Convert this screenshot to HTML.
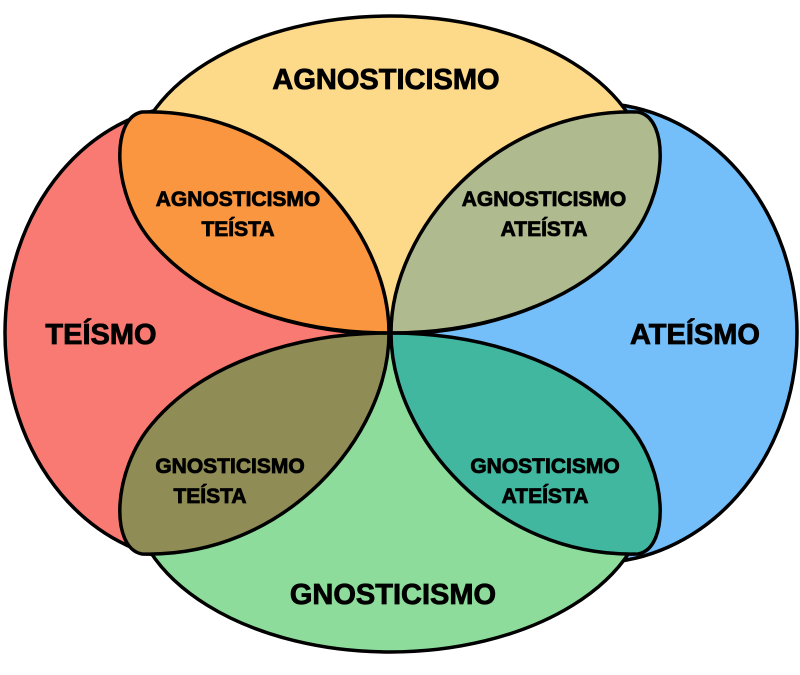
<!DOCTYPE html>
<html><head><meta charset="utf-8"><style>
html,body{margin:0;padding:0;background:#fff;}
svg{display:block;}
text{font-family:"Liberation Sans",sans-serif;font-weight:bold;fill:#000;stroke:#000;stroke-width:0.8;text-anchor:middle;}
</style></head><body>
<svg width="800" height="675" viewBox="0 0 800 675">
<defs>
<path id="petal" d="M389,333 C389,230 285,108 142,112 C110,118 112,195 152,242 C205,305 300,333 389,333 Z"/>
</defs>
<g stroke="#000" stroke-width="3.5">
<ellipse cx="197" cy="333" rx="192" ry="228" fill="#f87a72"/>
<ellipse cx="594" cy="333" rx="203" ry="230" fill="#74bff9"/>
<ellipse cx="390" cy="175" rx="258" ry="159" fill="#fdd98a"/>
<ellipse cx="390" cy="493" rx="258" ry="159" fill="#8ddc9b"/>
</g>
<g stroke="#000" stroke-width="3.5" stroke-linejoin="round">
<use href="#petal" fill="#fb9640"/>
<use href="#petal" fill="#b0ba8f" transform="translate(780,0) scale(-1,1)"/>
<use href="#petal" fill="#908c55" transform="translate(0,666) scale(1,-1)"/>
<use href="#petal" fill="#41b7a0" transform="translate(780,666) scale(-1,-1)"/>
</g>
<text x="386" y="89" font-size="29">AGNOSTICISMO</text>
<text x="393" y="604" font-size="29">GNOSTICISMO</text>
<text x="101" y="344" font-size="29">TEÍSMO</text>
<text x="695" y="344" font-size="29">ATEÍSMO</text>
<text x="238" y="206" font-size="21">AGNOSTICISMO<tspan x="238" dy="30">TEÍSTA</tspan></text>
<text x="544" y="206" font-size="21">AGNOSTICISMO<tspan x="544" dy="30">ATEÍSTA</tspan></text>
<text x="230" y="473" font-size="21">GNOSTICISMO<tspan x="210" dy="30">TEÍSTA</tspan></text>
<text x="545" y="473" font-size="21">GNOSTICISMO<tspan x="545" dy="30">ATEÍSTA</tspan></text>
</svg>
</body></html>
